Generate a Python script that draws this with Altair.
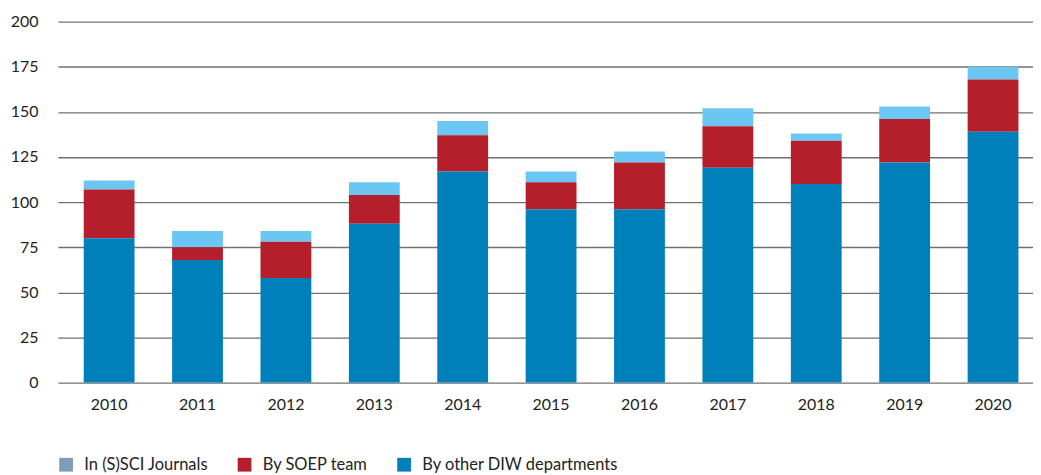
import altair as alt
import pandas as pd

years = ["2010", "2011", "2012", "2013", "2014", "2015", "2016", "2017", "2018", "2019", "2020"]
other_diw = [80, 68, 58, 88, 117, 96, 96, 119, 110, 122, 139]
soep_team = [27, 7, 20, 16, 20, 15, 26, 23, 24, 24, 29]
ssci = [5, 9, 6, 7, 8, 6, 6, 10, 4, 7, 7]

series_names = ["In (S)SCI Journals", "By SOEP team", "By other DIW departments"]
stack_order = {"By other DIW departments": 0, "By SOEP team": 1, "In (S)SCI Journals": 2}

rows = []
for i, y in enumerate(years):
    for name, vals in zip(series_names, [ssci, soep_team, other_diw]):
        rows.append({"year": y, "series": name, "value": vals[i], "ord": stack_order[name]})
df = pd.DataFrame(rows)

font = "Lato"
text_color = "#222222"

x_enc = alt.X("year:N", title=None, sort=years,
              scale=alt.Scale(paddingInner=0.425, paddingOuter=0.2285, align=0.64),
              axis=alt.Axis(labelAngle=0, ticks=False, domain=False, grid=False, labelPadding=14,
                            labelFontSize=16, labelFont=font, labelColor=text_color))
y_enc = alt.Y("value:Q", title=None, stack="zero",
              scale=alt.Scale(domain=[0, 200], nice=False),
              axis=alt.Axis(values=[0, 25, 50, 75, 100, 125, 150, 175, 200], ticks=False,
                            domain=False, grid=True, labelPadding=20, labelFontSize=16, labelFont=font,
                            labelColor=text_color, gridColor="#707070", gridWidth=1.3))

bars = alt.Chart(df).mark_bar().encode(
    x=x_enc,
    y=y_enc,
    color=alt.Color("series:N", scale=alt.Scale(domain=series_names,
                                                 range=["#6cc6f3", "#b51f2b", "#0080ba"]),
                    legend=None),
    order=alt.Order("ord:Q"),
)

legend_layer = alt.Chart(df).mark_square(opacity=0, size=10).encode(
    x=alt.X("year:N", sort=years),
    y=alt.Y("value:Q"),
    color=alt.Color("series:N",
                    scale=alt.Scale(domain=series_names,
                                    range=["#7b9db8", "#b51f2b", "#0080ba"]),
                    legend=alt.Legend(title=None, orient="none", direction="horizontal",
                                      legendX=0, legendY=436, symbolType="square",
                                      symbolSize=190, symbolOpacity=1, symbolStrokeWidth=0,
                                      labelFontSize=16.5, labelFont=font, labelColor=text_color,
                                      labelOffset=10, columnPadding=28, labelLimit=400)),
)

chart = alt.layer(bars, legend_layer).resolve_scale(color="independent").properties(
    width=978, height=362,
    autosize=alt.AutoSizeParams(type="none"),
    padding={"left": 50, "top": 13, "right": 0, "bottom": 98},
).configure_view(stroke=None)

chart.save("out.html", embed_options={"renderer": "svg", "actions": False})
